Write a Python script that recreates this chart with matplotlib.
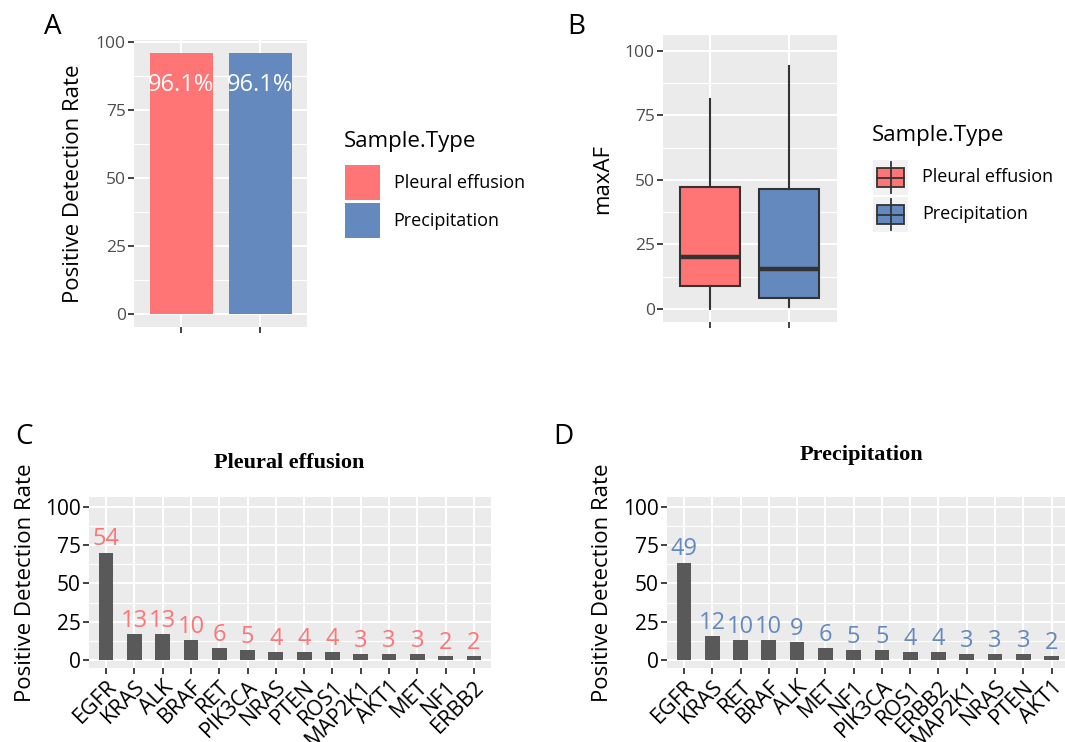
import matplotlib
matplotlib.use('Agg')
import matplotlib.pyplot as plt
from matplotlib.patches import Rectangle
from matplotlib.ticker import MultipleLocator

plt.rcParams['font.family'] = ['Open Sans', 'DejaVu Sans']

W, H = 1065, 742

# panel A / B data
sample_types = ['Pleural effusion', 'Precipitation']
type_colors = ['#FF7575', '#6389BE']
detect_rate = [96.1, 96.1]

# maxAF box stats
af_whislo = [0.0, 0.8]
af_q1 = [8.8, 4.4]
af_med = [20.1, 15.5]
af_q3 = [47.1, 46.4]
af_whishi = [81.3, 94.0]

# panel C: pleural effusion
genes_pe = ['EGFR', 'KRAS', 'ALK', 'BRAF', 'RET', 'PIK3CA', 'NRAS', 'PTEN',
            'ROS1', 'MAP2K1', 'AKT1', 'MET', 'NF1', 'ERBB2']
counts_pe = [54, 13, 13, 10, 6, 5, 4, 4, 4, 3, 3, 3, 2, 2]
rates_pe = [70.1, 16.9, 16.9, 13.0, 7.8, 6.5, 5.2, 5.2, 5.2, 3.9, 3.9, 3.9, 2.6, 2.6]

# panel D: precipitation
genes_pr = ['EGFR', 'KRAS', 'RET', 'BRAF', 'ALK', 'MET', 'NF1', 'PIK3CA',
            'ROS1', 'ERBB2', 'MAP2K1', 'NRAS', 'PTEN', 'AKT1']
counts_pr = [49, 12, 10, 10, 9, 6, 5, 5, 4, 4, 3, 3, 3, 2]
rates_pr = [63.6, 15.6, 13.0, 13.0, 11.7, 7.8, 6.5, 6.5, 5.2, 5.2, 3.9, 3.9, 3.9, 2.6]


def px_rect(l, t, r, b):
    return [l / W, 1 - b / H, (r - l) / W, (b - t) / H]


def gg_style(ax, labelcolor, labelsize):
    ax.set_facecolor('#EBEBEB')
    for s in ax.spines.values():
        s.set_visible(False)
    ax.set_axisbelow(True)
    ax.yaxis.set_minor_locator(MultipleLocator(12.5))
    ax.grid(which='major', color='white', lw=1.5)
    ax.grid(which='minor', axis='y', color='white', lw=0.8)
    ax.tick_params(which='major', length=4, width=1.3, color='#333333',
                   labelcolor=labelcolor, labelsize=labelsize, pad=2)
    ax.tick_params(which='minor', length=0)
    ax.set_yticks([0, 25, 50, 75, 100])


def set_ylabel_px(ax, text, x_px, rect_px, size=16):
    l, t, r, b = rect_px
    ax.set_ylabel(text, fontsize=size)
    ax.yaxis.set_label_coords((x_px - l) / (r - l), 0.5)


fig = plt.figure(figsize=(W / 100, H / 100), dpi=100)

# ---- A ----
ra = (134, 40, 307.5, 327)
axA = fig.add_axes(px_rect(*ra))
gg_style(axA, '#4D4D4D', 12.5)
xa = [1, 2]
axA.bar(xa, detect_rate, width=0.8, color=type_colors)
for x, v in zip(xa, detect_rate):
    axA.annotate(f'{v}%', (x, v), xytext=(0, -14.5), textcoords='offset points',
                 ha='center', va='top', color='white', fontsize=17)
axA.set_xlim(0.4, 2.6)
axA.set_ylim(-4.8, 100.9)
axA.set_xticks(xa)
axA.set_xticklabels(['', ''])
set_ylabel_px(axA, 'Positive Detection Rate', 84, ra)

# ---- B ----
rb = (663, 35, 836.5, 322)
axB = fig.add_axes(px_rect(*rb))
gg_style(axB, '#4D4D4D', 12.5)
stats = []
for i in range(2):
    stats.append(dict(whislo=af_whislo[i], q1=af_q1[i], med=af_med[i],
                      q3=af_q3[i], whishi=af_whishi[i], fliers=[]))
bp = axB.bxp(stats, positions=[1, 2], widths=0.76, patch_artist=True,
             showfliers=False, showcaps=False,
             boxprops=dict(edgecolor='#333333', linewidth=1.5),
             whiskerprops=dict(color='#333333', linewidth=1.5),
             medianprops=dict(color='#333333', linewidth=3.2))
for patch, c in zip(bp['boxes'], type_colors):
    patch.set_facecolor(c)
axB.set_xlim(0.4, 2.6)
axB.set_ylim(-5.06, 106.2)
axB.set_xticks([1, 2])
axB.set_xticklabels(['', ''])
set_ylabel_px(axB, 'maxAF', 613, rb)


# ---- C / D ----
def gene_panel(rect_px, genes, counts, rates, color, title, title_xy, ylab_x):
    ax = fig.add_axes(px_rect(*rect_px))
    gg_style(ax, 'black', 15)
    xs = list(range(1, len(genes) + 1))
    ax.bar(xs, rates, width=0.52, color='#595959')
    for x, r, c in zip(xs, rates, counts):
        ax.annotate(str(c), (x, r), xytext=(0, 1), textcoords='offset points',
                    ha='center', va='bottom', color=color, fontsize=17)
    ax.set_xlim(0.4, len(genes) + 0.6)
    ax.set_ylim(-5.0, 106.2)
    ax.set_xticks(xs)
    ax.set_xticklabels(genes, rotation=45, ha='right', va='top',
                       rotation_mode='anchor', fontsize=15.5)
    set_ylabel_px(ax, 'Positive Detection Rate', ylab_x, rect_px)
    fig.text(title_xy[0] / W, 1 - title_xy[1] / H, title, ha='center', va='center',
             fontsize=16, fontweight='bold', family='Liberation Serif')
    return ax


gene_panel((89, 497, 491, 668), genes_pe, counts_pe, rates_pe, type_colors[0],
           'Pleural effusion', (289, 463), 36)
gene_panel((667, 497, 1068.5, 668), genes_pr, counts_pr, rates_pr, type_colors[1],
           'Precipitation', (861, 455), 613)

# ---- overlay for legends and panel tags ----
ov = fig.add_axes([0, 0, 1, 1], zorder=5)
ov.set_xlim(0, W)
ov.set_ylim(H, 0)
ov.axis('off')
ov.patch.set_visible(False)

for tag, (x, y) in zip('ABCD', [(52.5, 27), (576, 27), (24, 437), (563, 437)]):
    ov.text(x, y, tag, fontsize=20, ha='center', va='center')

# legend A
ov.text(344, 141, 'Sample.Type', fontsize=16, ha='left', va='center')
for i, (name, c) in enumerate(zip(sample_types, type_colors)):
    top = 165 + i * 38
    ov.add_patch(Rectangle((345, top), 35, 35, facecolor=c, edgecolor='none'))
    ov.text(393.5, top + 17.5, name, fontsize=13, ha='left', va='center')

# legend B
ov.text(872, 136, 'Sample.Type', fontsize=16, ha='left', va='center')
for i, (name, c) in enumerate(zip(sample_types, type_colors)):
    top = 160 + i * 37
    ov.add_patch(Rectangle((873, top), 35, 35, facecolor='#F2F2F2', edgecolor='none'))
    ov.plot([890.5, 890.5], [top + 2, top + 33], color='#333333', lw=1.3)
    ov.add_patch(Rectangle((877, top + 8), 27, 19, facecolor=c, edgecolor='#333333', lw=1.3))
    ov.plot([877, 904], [top + 17.5, top + 17.5], color='#333333', lw=1.3)
    ov.text(922, top + 17, name, fontsize=13, ha='left', va='center')

fig.savefig('out.png', dpi=100)
